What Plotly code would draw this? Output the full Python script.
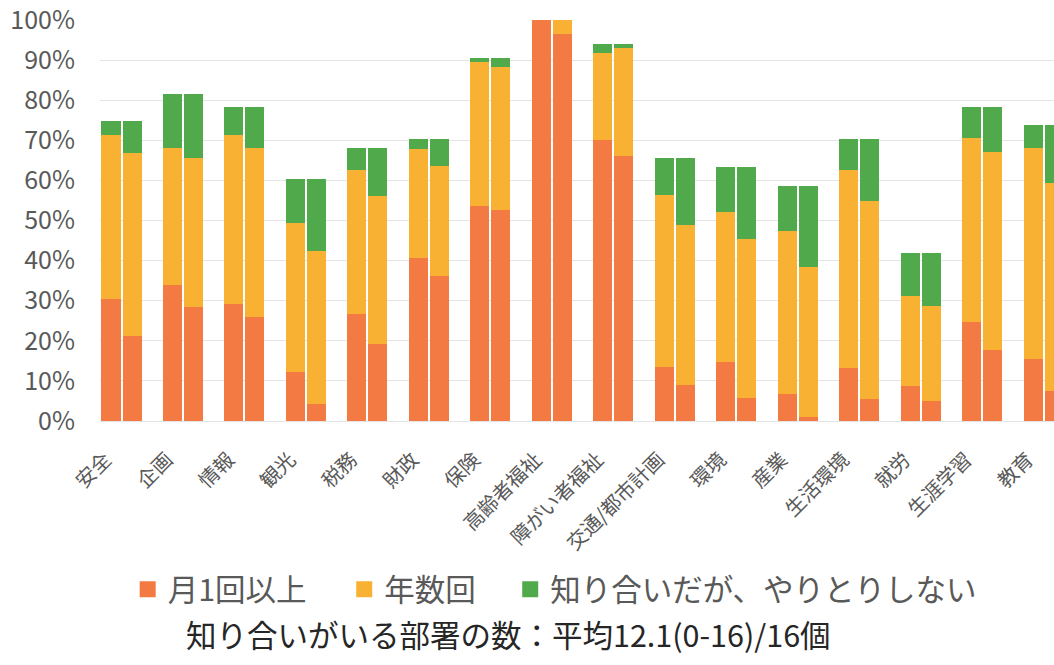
import numpy as np
import plotly.graph_objects as go

# Departments (x-axis categories)
departments = ['安全', '企画', '情報', '観光', '税務', '財政', '保険', '高齢者福祉',
               '障がい者福祉', '交通/都市計画', '環境', '産業', '生活環境', '就労',
               '生涯学習', '教育']

# Share of respondents (%) — left bar of each pair
monthly_a = [30.5, 33.8, 29.3, 12.1, 26.8, 40.6, 53.7, 100.0, 70.0, 13.5, 14.8, 6.7, 13.3, 8.8, 24.6, 15.4]
yearly_a = [40.9, 34.3, 42.1, 37.2, 35.9, 27.3, 35.8, 0.0, 21.7, 42.9, 37.3, 40.8, 49.4, 22.4, 45.9, 52.8]
idle_a = [3.3, 13.5, 6.8, 11.0, 5.5, 2.5, 1.1, 0.0, 2.3, 9.3, 11.3, 11.1, 7.7, 10.8, 7.7, 5.6]

# Share of respondents (%) — right bar of each pair
monthly_b = [21.3, 28.5, 26.0, 4.3, 19.1, 36.1, 52.7, 96.4, 66.0, 9.0, 5.7, 1.0, 5.5, 5.1, 17.6, 7.6]
yearly_b = [45.5, 37.2, 42.1, 38.2, 37.1, 27.4, 35.7, 3.6, 26.9, 39.8, 39.6, 37.3, 49.3, 23.6, 49.6, 51.7]
idle_b = [7.9, 15.9, 10.1, 17.8, 12.0, 6.9, 2.2, 0.0, 1.1, 16.9, 18.1, 20.3, 15.6, 13.3, 11.0, 14.5]

# Y-axis ticks
y_ticks = [0.0, 0.1, 0.2, 0.3, 0.4, 0.5, 0.6, 0.7, 0.8, 0.9, 1.0]
y_tick_labels = ['0%', '10%', '20%', '30%', '40%', '50%', '60%', '70%', '80%', '90%', '100%']

series_names = ['月1回以上', '年数回', '知り合いだが、やりとりしない']
series_colors = ['#F37B43', '#F9B133', '#50A94B']

subtitle = '知り合いがいる部署の数：平均12.1(0-16)/16個'

idx = np.arange(len(departments))
pair_offset = 0.171
bar_width = 0.31
x_pos = np.concatenate([idx - pair_offset, idx + pair_offset])

font_family = 'Noto Sans CJK JP'
legend_ids = ['legend', 'legend2', 'legend3']
legend_x = [0.029, 0.256, 0.430]

fig = go.Figure()
for name, color, a, b in zip(series_names, series_colors,
                             [monthly_a, yearly_a, idle_a],
                             [monthly_b, yearly_b, idle_b]):
    vals = np.concatenate([np.array(a), np.array(b)]) / 100.0
    fig.add_trace(go.Bar(
        x=x_pos, y=vals, name=name, width=bar_width,
        marker=dict(color=color, line=dict(width=0)),
        showlegend=False,
    ))

# Legend keys: one square marker per series, each in its own legend box
for name, color, lid in zip(series_names, series_colors, legend_ids):
    fig.add_trace(go.Scatter(
        x=[None], y=[None], mode='markers', name=name, legend=lid,
        marker=dict(symbol='square', size=16, color=color, line=dict(width=0)),
    ))

legend_style = dict(
    orientation='h', y=-0.42, yanchor='middle', xanchor='left',
    font=dict(size=30.5, color='#595959'), bgcolor='rgba(0,0,0,0)',
)

fig.update_layout(
    width=1054, height=665,
    barmode='stack',
    plot_bgcolor='white', paper_bgcolor='white',
    margin=dict(l=100, r=0, t=15, b=244),
    font=dict(family=font_family, color='#595959'),
    xaxis=dict(
        range=[-0.35, 15.17],
        tickmode='array', tickvals=idx, ticktext=departments,
        tickangle=-45, tickfont=dict(size=20, color='#595959'),
        showgrid=False, zeroline=False, showline=False, ticks='',
        ticklabelstandoff=22, ticklabelshift=-16, ticklabeloverflow='allow',
    ),
    yaxis=dict(
        range=[0, 1.0], tickmode='array', tickvals=y_ticks, ticktext=y_tick_labels,
        tickfont=dict(size=25, color='#595959'),
        gridcolor='#E4E4E4', gridwidth=1,
        zeroline=True, zerolinecolor='#E4E4E4', zerolinewidth=1,
        showline=False, ticks='', ticklabelstandoff=24, ticklabeloverflow='allow',
    ),
    legend=dict(x=legend_x[0], **legend_style),
    legend2=dict(x=legend_x[1], **legend_style),
    legend3=dict(x=legend_x[2], **legend_style),
    annotations=[dict(
        text=subtitle, xref='paper', yref='paper', x=0.428, y=-0.532,
        xanchor='center', yanchor='middle', showarrow=False,
        font=dict(size=30.5, color='#262626'),
    )],
    bargap=0,
)

fig.write_html('out.html')
